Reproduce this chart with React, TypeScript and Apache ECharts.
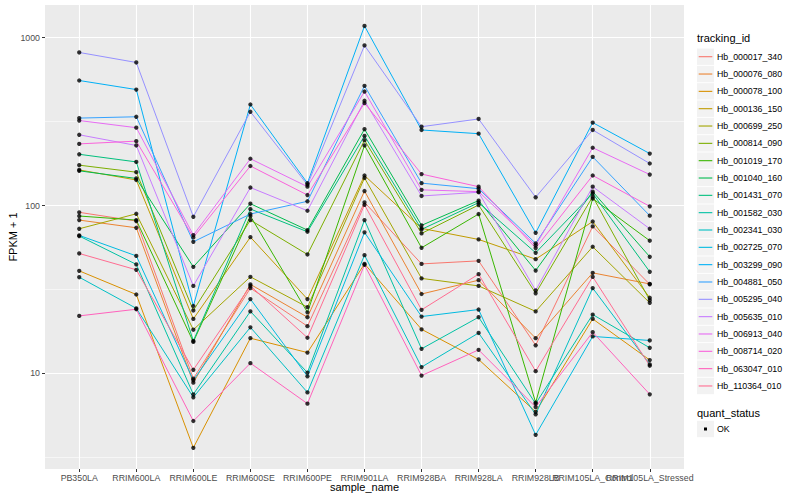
import React, { useEffect, useRef } from "react";
import * as echarts from "echarts";

const categories = [
  "PB350LA", "RRIM600LA", "RRIM600LE", "RRIM600SE", "RRIM600PE", "RRIM901LA",
  "RRIM928BA", "RRIM928LA", "RRIM928LB", "RRIM105LA_Control", "RRIM105LA_Stressed",
];

const seriesNames = [
  "Hb_000017_340", "Hb_000076_080", "Hb_000078_100", "Hb_000136_150", "Hb_000699_250",
  "Hb_000814_090", "Hb_001019_170", "Hb_001040_160", "Hb_001431_070", "Hb_001582_030",
  "Hb_002341_030", "Hb_002725_070", "Hb_003299_090", "Hb_004881_050", "Hb_005295_040",
  "Hb_005635_010", "Hb_006913_040", "Hb_008714_020", "Hb_063047_010", "Hb_110364_010",
];

const seriesColors = [
  "#F8766D", "#EA8331", "#D89000", "#C09B00", "#A3A500", "#7CAE00", "#39B600",
  "#00BB4E", "#00BF7D", "#00C1A3", "#00BFC4", "#00BAE0", "#00B0F6", "#35A2FF",
  "#9590FF", "#C77CFF", "#E76BF3", "#FA62DB", "#FF62BC", "#FF6C91",
];

// FPKM + 1 per sample, in category order
const hb000017_340 = [91.1, 80.8, 9.3, 32.2, 19.1, 104.5, 44.9, 46.8, 14.7, 75.1, 33.9];
const hb000076_080 = [81.9, 73.7, 8.8, 33.9, 21.6, 122, 29.7, 35.9, 16.2, 39.7, 34.1];
const hb000078_100 = [40.8, 29.5, 3.6, 16.2, 13.3, 44.9, 18.3, 12.1, 5.9, 21.1, 12.0];
const hb000136_150 = [163, 142, 21.1, 64.8, 27.7, 151, 73.1, 62.8, 47.9, 80.3, 28.2];
const hb000699_250 = [72.7, 89.3, 18.2, 37.6, 24.8, 146, 36.8, 33.2, 23.4, 56.8, 26.3];
const hb000814_090 = [174, 158, 23.7, 81.9, 51.1, 245, 68.2, 100.7, 30.0, 113, 27.3];
const hb001019_170 = [86.6, 81.9, 15.4, 86.6, 23.1, 228, 56.0, 89.0, 6.7, 110, 61.7];
const hb001040_160 = [161, 145, 43.1, 102.5, 71.4, 285, 76.2, 107, 41.0, 121, 49.5];
const hb001431_070 = [202, 182, 15.6, 95.3, 69.8, 260, 72.1, 104, 52.3, 118, 40.3];
const hb001582_030 = [65.8, 44.6, 7.5, 23.4, 10.1, 81.9, 14.0, 21.6, 6.6, 22.4, 14.2];
const hb002341_030 = [37.4, 24.4, 7.2, 18.8, 7.7, 50.6, 10.9, 17.4, 5.7, 32.2, 11.3];
const hb002725_070 = [66.4, 50.1, 9.1, 27.7, 9.6, 69.2, 21.8, 24.0, 4.3, 16.6, 15.7];
const hb003299_090 = [556, 491, 25.2, 400, 136, 1175, 282, 268, 68.8, 312, 204];
const hb004881_050 = [332, 338, 60.8, 89.0, 106, 517, 136, 126, 59.5, 195, 87.0];
const hb005295_040 = [817, 712, 85.7, 362, 133, 899, 295, 328, 112, 282, 178];
const hb005635_010 = [264, 228, 33.2, 128, 93.1, 421, 114, 120, 31.2, 129.5, 72.7];
const hb006913_040 = [321, 291, 66.7, 190, 129.5, 478, 124, 121, 57.9, 221, 153];
const hb008714_020 = [233, 242, 64.6, 172, 115.5, 408, 154, 129.5, 55.8, 151, 98.9];
const hb063047_010 = [22.0, 24.1, 5.2, 11.5, 6.6, 44.3, 9.7, 13.8, 6.3, 17.6, 7.5];
const hb110364_010 = [51.8, 41.4, 10.5, 33.2, 16.3, 101, 23.9, 39.0, 10.3, 37.6, 11.1];

const seriesValues = [
  hb000017_340, hb000076_080, hb000078_100, hb000136_150, hb000699_250,
  hb000814_090, hb001019_170, hb001040_160, hb001431_070, hb001582_030,
  hb002341_030, hb002725_070, hb003299_090, hb004881_050, hb005295_040,
  hb005635_010, hb006913_040, hb008714_020, hb063047_010, hb110364_010,
];

const yTickValues = [10, 100, 1000];
const yMinorValues = [Math.sqrt(10), Math.sqrt(1000), Math.sqrt(100000)];
const quantStatus = ["OK"];

const FONT = "'Liberation Sans', Arial, sans-serif";

export default function App() {
  const ref = useRef<HTMLDivElement>(null);

  useEffect(() => {
    if (!ref.current) return;
    const chart = echarts.init(ref.current, null, { renderer: "svg" });

    const lineSeries = seriesValues.map((vals, si) => ({
      type: "line",
      name: seriesNames[si],
      data: vals.map((v, i) => [i + 1, Math.log10(v)]),
      showSymbol: false,
      symbol: "none",
      lineStyle: { color: seriesColors[si], width: 1 },
      itemStyle: { color: seriesColors[si] },
      z: 2,
      silent: true,
      emphasis: { disabled: true },
    }));

    const allPoints: number[][] = [];
    seriesValues.forEach((vals) => vals.forEach((v, i) => allPoints.push([i + 1, Math.log10(v)])));

    const gridSeries = {
      type: "line",
      name: "grid",
      data: [[1, 1]],
      showSymbol: false,
      symbol: "none",
      lineStyle: { opacity: 0 },
      silent: true,
      z: 1,
      markLine: {
        silent: true,
        z: 1,
        symbol: ["none", "none"],
        label: { show: false },
        emphasis: { disabled: true },
        data: [
          ...yTickValues.map((v) => ({ yAxis: Math.log10(v), lineStyle: { color: "#FFFFFF", width: 1.1, type: "solid" } })),
          ...yMinorValues.map((v) => ({ yAxis: Math.log10(v), lineStyle: { color: "#FFFFFF", width: 0.55, type: "solid" } })),
          ...categories.map((_, i) => ({ xAxis: i + 1, lineStyle: { color: "#FFFFFF", width: 1.1, type: "solid" } })),
        ],
      },
    };

    const pointSeries = {
      type: "scatter",
      name: "points",
      data: allPoints,
      symbol: "circle",
      symbolSize: 4.3,
      itemStyle: { color: "#000000" },
      z: 3,
      silent: true,
      emphasis: { disabled: true },
    };

    const legendX = 697;
    const legendTop = 56.7;
    const legendStep = 17.33;
    const legendGraphics: any[] = [
      {
        type: "text",
        x: legendX,
        y: 38,
        style: { text: "tracking_id", font: `11px ${FONT}`, fill: "#000000", verticalAlign: "middle" },
      },
    ];
    seriesNames.forEach((name, i) => {
      const cy = legendTop + i * legendStep;
      legendGraphics.push({
        type: "rect",
        shape: { x: legendX, y: cy - 8.2, width: 17, height: 16.4 },
        style: { fill: "#F2F2F2" },
      });
      legendGraphics.push({
        type: "line",
        shape: { x1: legendX + 1.7, y1: cy, x2: legendX + 15.3, y2: cy },
        style: { stroke: seriesColors[i], lineWidth: 1.1 },
      });
      legendGraphics.push({
        type: "text",
        x: legendX + 20,
        y: cy,
        style: { text: name, font: `8.8px ${FONT}`, fill: "#000000", verticalAlign: "middle" },
      });
    });
    legendGraphics.push({
      type: "text",
      x: legendX,
      y: 412.5,
      style: { text: "quant_status", font: `11px ${FONT}`, fill: "#000000", verticalAlign: "middle" },
    });
    quantStatus.forEach((q, i) => {
      const cy = 429 + i * legendStep;
      legendGraphics.push({
        type: "rect",
        shape: { x: legendX, y: cy - 8.2, width: 17, height: 16.4 },
        style: { fill: "#F2F2F2" },
      });
      legendGraphics.push({
        type: "rect",
        shape: { x: legendX + 7, y: cy - 1.5, width: 3, height: 3 },
        style: { fill: "#000000" },
      });
      legendGraphics.push({
        type: "text",
        x: legendX + 20,
        y: cy,
        style: { text: q, font: `8.8px ${FONT}`, fill: "#000000", verticalAlign: "middle" },
      });
    });

    const axisTitles = [
      {
        type: "text",
        x: 364.5,
        y: 487,
        style: { text: "sample_name", font: `11px ${FONT}`, fill: "#000000", align: "center", verticalAlign: "middle" },
      },
      {
        type: "text",
        x: 13,
        y: 237,
        rotation: Math.PI / 2,
        style: { text: "FPKM + 1", font: `11px ${FONT}`, fill: "#000000", align: "center", verticalAlign: "middle" },
      },
    ];

    const positions = categories.map((_, i) => i + 1);
    // Split labels across two overlaid axes so ECharts keeps the overlapping ones (as in the reference).
    const labelSetA = positions.filter((p) => p !== 10);
    const labelSetB = positions.filter((p) => p === 10);

    const xLabelStyle = {
      show: true,
      formatter: (v: number) => categories[Math.round(v) - 1] ?? "",
      fontFamily: FONT,
      fontSize: 8.8,
      color: "#4D4D4D",
      margin: 4,
      hideOverlap: false,
      showMinLabel: true,
      showMaxLabel: true,
    };

    chart.setOption({
      animation: false,
      backgroundColor: "#FFFFFF",
      grid: {
        left: 45,
        top: 5,
        width: 639,
        height: 464,
        show: true,
        backgroundColor: "#EBEBEB",
        borderWidth: 0,
        containLabel: false,
      },
      xAxis: [
        {
          type: "value",
          min: 0.4,
          max: 11.6,
          position: "bottom",
          axisLine: { show: false },
          splitLine: { show: false },
          axisTick: {
            show: true,
            length: 3,
            customValues: positions,
            lineStyle: { color: "#333333", width: 1 },
          },
          axisLabel: { ...xLabelStyle, customValues: labelSetA },
        },
        {
          type: "value",
          min: 0.4,
          max: 11.6,
          position: "bottom",
          offset: 0,
          axisLine: { show: false },
          splitLine: { show: false },
          axisTick: { show: false },
          axisLabel: { ...xLabelStyle, customValues: labelSetB },
        },
      ],
      yAxis: {
        type: "value",
        min: 0.43,
        max: 3.195,
        axisLine: { show: false },
        splitLine: { show: false },
        axisTick: {
          show: true,
          length: 3,
          customValues: yTickValues.map((v) => Math.log10(v)),
          lineStyle: { color: "#333333", width: 1 },
        },
        axisLabel: {
          show: true,
          customValues: yTickValues.map((v) => Math.log10(v)),
          formatter: (v: number) => String(Math.round(Math.pow(10, v))),
          fontFamily: FONT,
          fontSize: 8.8,
          color: "#4D4D4D",
          margin: 5,
          showMinLabel: true,
          showMaxLabel: true,
        },
      },
      tooltip: { show: false },
      series: [gridSeries, ...lineSeries, pointSeries],
      graphic: [...axisTitles, ...legendGraphics],
    });

    return () => {
      chart.dispose();
    };
  }, []);

  return (
    <div
      ref={ref}
      style={{ position: "absolute", left: 0, top: 0, width: 800, height: 500 }}
    />
  );
}
